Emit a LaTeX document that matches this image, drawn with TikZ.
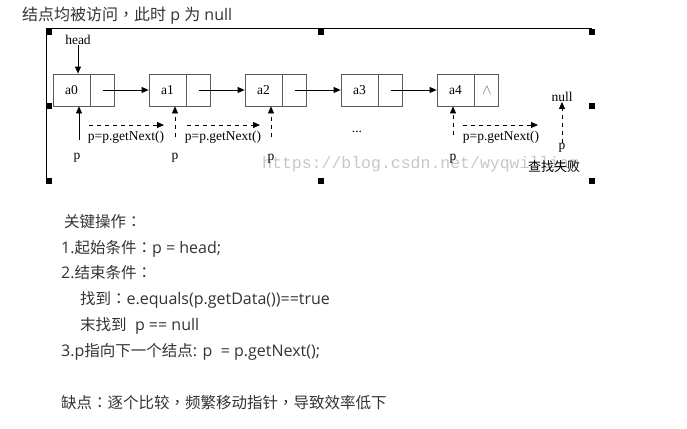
\documentclass[tikz,border=0pt]{standalone}
\usepackage{fontspec}
\setmainfont{Liberation Serif}
\newfontfamily\cjk{Noto Sans CJK SC}
\newfontfamily\cjkp{Noto Sans CJK TC}
\newfontfamily\latn{Open Sans}
\newfontfamily\wmfont{Liberation Mono}
\newcommand\zh[1]{{\cjk\fontsize{15.5}{17}\selectfont #1}}
\newcommand\zp[1]{{\cjkp\fontsize{15.5}{17}\selectfont #1}}
\usetikzlibrary{arrows.meta}
\definecolor{txt}{RGB}{51,51,51}
\tikzset{
  cell/.style={draw=black!65, line width=0.8pt, minimum height=32pt, inner sep=0pt, font=\fontsize{13.5}{15}\selectfont},
  datacell/.style={cell, minimum width=37pt},
  ptrcell/.style={cell, minimum width=24pt},
  arr/.style={line width=0.8pt, -{Triangle[length=7pt,width=6pt]}},
  darr/.style={arr, dash pattern=on 4pt off 4pt},
  lbl/.style={inner sep=0pt, font=\fontsize{13.5}{15}\selectfont},
  handle/.style={fill=black, draw=none, minimum size=6pt, inner sep=0pt},
  para/.style={anchor=base west, inner sep=0pt, text=txt, font=\latn\fontsize{16}{18}\selectfont}
}
\begin{document}
\begin{tikzpicture}[x=1pt,y=-1pt]
\useasboundingbox (0,0) rectangle (687,428);
% watermark
\node[anchor=base west, inner sep=0pt, text=black!22, font=\wmfont\fontsize{16.5}{18}\selectfont] (wm) at (262,168) {https://blog.csdn.net/wyqwilliam};
% title
\node[anchor=base west, inner sep=0pt, text=txt, font=\latn\fontsize{16}{18}\selectfont] (title) at (22,21) {{\cjk\fontsize{16}{18}\selectfont 结点均被访问}{\cjkp\fontsize{16}{18}\selectfont ，}{\cjk\fontsize{16}{18}\selectfont 此时} p {\cjk\fontsize{16}{18}\selectfont 为} null};
% selection frame
\coordinate (fl) at (46,28.5);
\coordinate (fr) at (592,28.5);
\coordinate (fb) at (46,181);
\draw[line width=0.9pt] (fr) -- (fl) -- (fb);
\foreach \hx/\hy/\nm in {49/32/h1,321/32/h2,592/32/h3,49/106/h4,592/106/h5,49/181/h6,321/181/h7,592/181/h8}
  \node[handle] (\nm) at (\hx,\hy) {};
% list nodes
\foreach \i/\cx/\t in {0/71.5/a0,1/167.5/a1,2/263.5/a2,3/359.5/a3,4/455.5/a4}{
  \node[datacell] (d\i) at (\cx,90) {\t};
  \node[ptrcell, anchor=west] (p\i) at (d\i.east) {};
}
\node[lbl, text=black!60] (nil) at (p4.center) {$\wedge$};
\foreach \i/\j in {0/1,1/2,2/3,3/4}
  \draw[arr] (p\i.center) -- (d\j.west);
% head
\node[lbl] (head) at (78,40) {head};
\draw[arr] (head.south) -- (head.south |- d0.north);
% pointers below
\coordinate (q0) at (79,140);
\draw[arr] (q0) -- (q0 |- d0.south);
\coordinate (q1) at (175,137);
\draw[darr] (q1) -- (q1 |- d1.south);
\coordinate (q2) at (271,137);
\draw[darr] (q2) -- (q2 |- d2.south);
\coordinate (q4) at (453,135);
\draw[darr] (q4) -- (q4 |- d4.south);
% getNext arrows
\coordinate (s1) at (89,125); \coordinate (e1) at (164,125);
\draw[darr] (s1) -- (e1);
\coordinate (s2) at (187,125); \coordinate (e2) at (260,125);
\draw[darr] (s2) -- (e2);
\coordinate (s4) at (463,125); \coordinate (e4) at (538,125);
\draw[darr] (s4) -- (e4);
\node[lbl] (g1) at (126,137) {p=p.getNext()};
\node[lbl] (g2) at (223,137) {p=p.getNext()};
\node[lbl] (g4) at (501,137) {p=p.getNext()};
\node[lbl] (dots) at (357,132) {...};
% p labels
\node[lbl] (pp0) at (77,158) {p};
\node[lbl] (pp1) at (175,158) {p};
\node[lbl] (pp2) at (271,159) {p};
\node[lbl] (pp4) at (453,159) {p};
% null
\node[lbl] (null) at (562,97) {null};
\node[lbl] (pn) at (562,148) {p};
\draw[darr] (pn.north) -- (null.south);
\node[inner sep=0pt, font=\cjk\fontsize{13}{15}\selectfont] (fail) at (554,167) {查找失败};
% text
\node[para] (t1) at (64,227) {\zh{关键操作}\zp{：}};
\node[para] (t2) at (61,253) {1.\zh{起始条件}\zp{：}p = head;};
\node[para] (t3) at (61,278) {2.\zh{结束条件}\zp{：}};
\node[para] (t4) at (80,304) {\zh{找到}\zp{：}e.equals(p.getData())==true};
\node[para] (t5) at (80,330) {\zh{末找到}\ \ p == null};
\node[para] (t6) at (61,356) {3.p\zh{指向下一个结点}: p\ \ = p.getNext();};
\node[para] (t7) at (61,408) {\zh{缺点}\zp{：}\zh{逐个比较}\zp{，}\zh{频繁移动指针}\zp{，}\zh{导致效率低下}};
\end{tikzpicture}
\end{document}
